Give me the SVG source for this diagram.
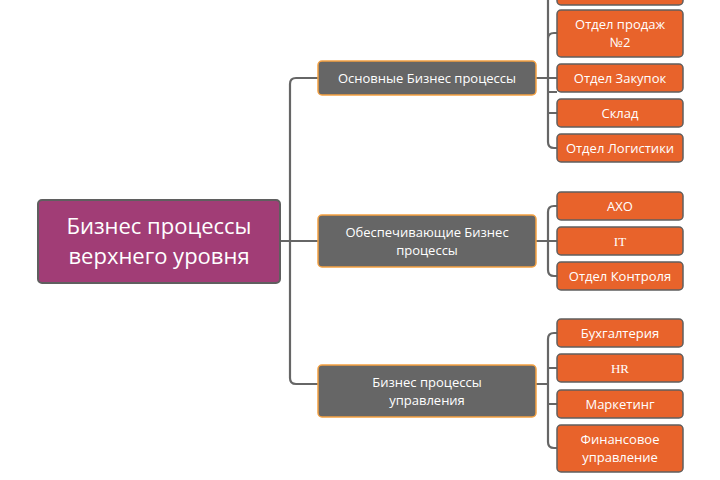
<svg xmlns="http://www.w3.org/2000/svg" width="720" height="480" viewBox="0 0 720 480">
<style>
.c{fill:none;stroke:#666;stroke-width:2.2}
.mid{fill:#666;stroke:#f5a142;stroke-width:1.5}
.leaf{fill:#e8632b;stroke:#5f5f5f;stroke-width:1.5}
text{font-family:"Open Sans","Noto Sans",sans-serif;fill:#fff;text-anchor:middle}
.m{font-size:13px}
.l{font-size:13px}
.s{font-family:"Liberation Serif",serif}
</style>
<rect width="720" height="480" fill="#fff"/>
<g id="connectors">
<path class="c" d="M280 241H290M318 78H296Q290 78 290 84V378Q290 384 296 384H318M290 241H318"/>
<path class="c" d="M536 78H548M548 -10V142Q548 148 554 148H557M557 92H548M557 33H554Q548 33 548 39M557 113H548M557 78H548"/>
<path class="c" d="M536 241H548M557 206H554Q548 206 548 212V270Q548 276 554 276H557M548 241H557"/>
<path class="c" d="M536 384H548M557 333H554Q548 333 548 339V442Q548 448 554 448H557M548 368H557M548 404H557"/>
</g>
<g id="root"><rect x="38" y="200" width="242" height="83" rx="4" fill="#a13d76" stroke="#5f5f5f" stroke-width="2"/>
<text x="159" y="234" font-size="22">Бизнес процессы</text><text x="159" y="264" font-size="22">верхнего уровня</text></g>
<g id="mid1"><rect class="mid" x="318" y="61" width="218" height="34" rx="4"/><text class="m" x="427" y="83">Основные Бизнес процессы</text></g>
<g id="mid2"><rect class="mid" x="318" y="215" width="218" height="52" rx="4"/><text class="m" x="427" y="237">Обеспечивающие Бизнес</text><text class="m" x="427" y="255">процессы</text></g>
<g id="mid3"><rect class="mid" x="318" y="365" width="218" height="52" rx="4"/><text class="m" x="427" y="387">Бизнес процессы</text><text class="m" x="427" y="405">управления</text></g>
<g id="leaf0"><rect class="leaf" x="557" y="-25" width="126" height="30" rx="4"/></g>
<g id="leaf1"><rect class="leaf" x="557" y="10" width="126" height="47" rx="4"/><text class="l" x="620" y="29">Отдел продаж</text><text class="l" x="620" y="47">№2</text></g>
<g id="leaf2"><rect class="leaf" x="557" y="64" width="126" height="28" rx="4"/><text class="l" x="620" y="83">Отдел Закупок</text></g>
<g id="leaf3"><rect class="leaf" x="557" y="99" width="126" height="28" rx="4"/><text class="l" x="620" y="118">Склад</text></g>
<g id="leaf4"><rect class="leaf" x="557" y="134" width="126" height="28" rx="4"/><text class="l" x="620" y="153">Отдел Логистики</text></g>
<g id="leaf5"><rect class="leaf" x="557" y="192" width="126" height="28" rx="4"/><text class="l" x="620" y="211">АХО</text></g>
<g id="leaf6"><rect class="leaf" x="557" y="227" width="126" height="28" rx="4"/><text class="l s" x="620" y="246">IT</text></g>
<g id="leaf7"><rect class="leaf" x="557" y="262" width="126" height="28" rx="4"/><text class="l" x="620" y="281">Отдел Контроля</text></g>
<g id="leaf8"><rect class="leaf" x="557" y="319" width="126" height="28" rx="4"/><text class="l" x="620" y="338">Бухгалтерия</text></g>
<g id="leaf9"><rect class="leaf" x="557" y="354" width="126" height="28" rx="4"/><text class="l s" x="620" y="373">HR</text></g>
<g id="leaf10"><rect class="leaf" x="557" y="390" width="126" height="28" rx="4"/><text class="l" x="620" y="409">Маркетинг</text></g>
<g id="leaf11"><rect class="leaf" x="557" y="425" width="126" height="47" rx="4"/><text class="l" x="620" y="444">Финансовое</text><text class="l" x="620" y="462">управление</text></g>
</svg>
